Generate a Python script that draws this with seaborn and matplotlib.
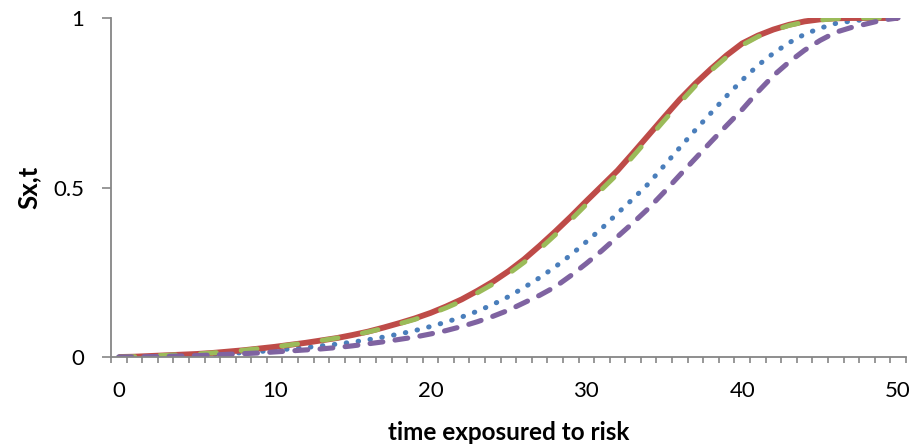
import matplotlib
matplotlib.use("Agg")
import matplotlib.pyplot as plt
import seaborn as sns
import pandas as pd
from matplotlib.ticker import FixedLocator

x_vals = list(range(51))
blue_vals = [0, 0.001, 0.002, 0.003, 0.004, 0.006, 0.008, 0.01, 0.013, 0.016, 0.02, 0.024, 0.028, 0.033, 0.038,
             0.044, 0.051, 0.059, 0.068, 0.078, 0.09, 0.103, 0.118, 0.135, 0.155, 0.178, 0.205, 0.234, 0.266,
             0.301, 0.34, 0.38, 0.424, 0.467, 0.512, 0.565, 0.618, 0.67, 0.72, 0.77, 0.817, 0.86, 0.896, 0.927,
             0.952, 0.97, 0.984, 0.991, 0.996, 0.999, 1]
red_vals = [0, 0.001, 0.003, 0.005, 0.007, 0.009, 0.012, 0.016, 0.02, 0.025, 0.03, 0.036, 0.042, 0.049, 0.056,
            0.065, 0.075, 0.087, 0.1, 0.114, 0.13, 0.149, 0.17, 0.195, 0.222, 0.253, 0.288, 0.328, 0.37,
            0.414, 0.46, 0.505, 0.55, 0.602, 0.655, 0.708, 0.76, 0.807, 0.85, 0.89, 0.925, 0.948, 0.966, 0.98,
            0.99, 0.996, 0.999, 1, 1, 1, 1]
green_vals = [0, 0.001, 0.003, 0.005, 0.007, 0.009, 0.012, 0.016, 0.02, 0.025, 0.03, 0.036, 0.042, 0.049, 0.056,
              0.064, 0.074, 0.085, 0.098, 0.111, 0.127, 0.145, 0.165, 0.189, 0.215, 0.245, 0.279, 0.318, 0.36,
              0.404, 0.45, 0.495, 0.54, 0.592, 0.645, 0.698, 0.75, 0.8, 0.845, 0.885, 0.92, 0.945, 0.963, 0.978,
              0.988, 0.994, 0.998, 1, 1, 1, 1]
purple_vals = [0, 0.0005, 0.001, 0.002, 0.003, 0.004, 0.006, 0.008, 0.01, 0.012, 0.015, 0.018, 0.021, 0.024, 0.028,
               0.033, 0.039, 0.045, 0.052, 0.059, 0.068, 0.078, 0.09, 0.104, 0.12, 0.138, 0.16, 0.182, 0.207,
               0.24, 0.276, 0.314, 0.355, 0.396, 0.439, 0.487, 0.537, 0.586, 0.635, 0.683, 0.73, 0.782, 0.83, 0.87,
               0.905, 0.934, 0.958, 0.972, 0.983, 0.994, 1]

x_ticks = [0, 10, 20, 30, 40, 50]
x_tick_labels = ["0", "10", "20", "30", "40", "50"]
y_ticks = [0, 0.5, 1]
y_tick_labels = ["0", "0.5", "1"]

sns.set_theme(style="white")
plt.rcParams['font.family'] = ['Lato', 'DejaVu Sans']

fig = plt.figure(figsize=(9.15, 4.47), dpi=100)
ax = fig.add_axes([0.1213, 0.2013, 0.990 - 0.1213, 0.9597 - 0.2013])

series = [
    ("blue", blue_vals, "#4A7EBB", 3.6, (0, (0.1, 2.3)), "round"),
    ("red", red_vals, "#BE4B48", 4.2, "-", "butt"),
    ("green", green_vals, "#9BBB59", 3.5, (0, (3.3, 5.1)), "round"),
    ("purple", purple_vals, "#7F63A1", 3.7, (0, (2.5, 2.4)), "round"),
]
for name, vals, color, lw, ls, cap in series:
    df = pd.DataFrame({"x": x_vals, "y": vals})
    sns.lineplot(data=df, x="x", y="y", ax=ax, color=color, linewidth=lw, linestyle=ls,
                 solid_capstyle=cap, dash_capstyle=cap, solid_joinstyle="round", dash_joinstyle="round")

ax.set_xlim(-0.5, 50.5)
ax.set_ylim(0, 1)

for s in ["top", "right"]:
    ax.spines[s].set_visible(False)
for s in ["left", "bottom"]:
    ax.spines[s].set_color("#868686")
    ax.spines[s].set_linewidth(1.3)

ax.xaxis.set_major_locator(FixedLocator(x_ticks))
ax.set_xticklabels(x_tick_labels)
ax.xaxis.set_minor_locator(FixedLocator([i - 0.5 for i in range(52)]))
ax.set_yticks(y_ticks)
ax.set_yticklabels(y_tick_labels)

ax.tick_params(axis="x", which="major", length=0, pad=17, labelsize=16, labelcolor="black")
ax.tick_params(axis="x", which="minor", bottom=True, length=4.5, width=1.2, color="#868686", direction="out")
ax.tick_params(axis="y", which="major", left=True, length=6.5, width=1.2, color="#868686", direction="out",
               pad=13, labelsize=16, labelcolor="black")

ax.set_xlabel("time exposured to risk", fontsize=17.5, fontweight="bold", labelpad=14.5, color="black")
ax.set_ylabel("Sx,t", fontsize=18.5, fontweight="bold", labelpad=9, color="black")
ax.grid(False)

fig.savefig("out.png", dpi=100)
